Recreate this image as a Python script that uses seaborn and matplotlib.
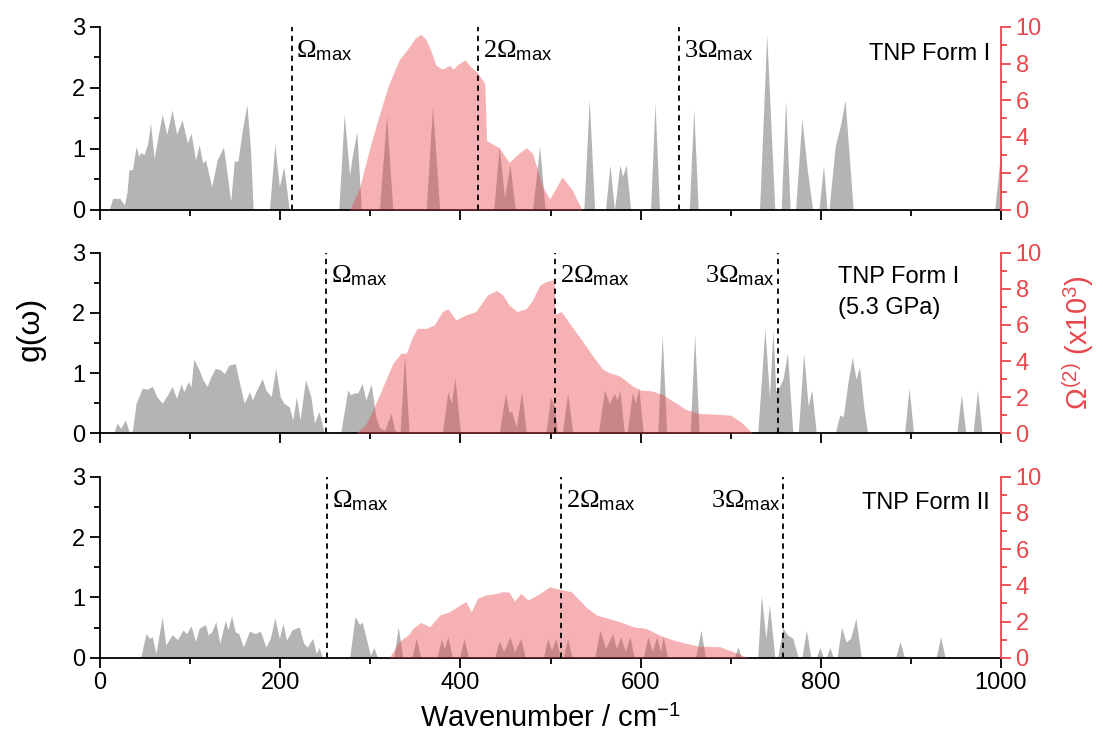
import numpy as np
import matplotlib
matplotlib.use('Agg')
import matplotlib.pyplot as plt
from matplotlib.ticker import MultipleLocator
import seaborn as sns

# ---- panel 1 : TNP Form I ----
p1_gray_x = [10, 14, 22, 27, 30, 32, 36, 40, 43, 45, 49, 53, 56, 60, 65, 69, 74, 80, 85, 91, 97, 101, 106, 110,
             114, 117, 124, 130, 137, 140, 145, 149, 153, 158, 163, 167, 170,
             188, 194, 199, 204, 210,
             265, 271, 277, 280, 285, 290,
             310, 318, 325,
             362, 369, 377,
             437, 443, 449, 455, 461,
             480, 488, 494,
             537, 543, 549,
             561, 566, 571, 577, 580, 584, 589,
             611, 616, 621,
             654, 659, 664,
             732, 740, 749,
             756, 761, 766,
             772, 779, 785, 791,
             798, 803, 807,
             809, 816, 822, 827, 836,
             993, 1000]
p1_gray_y = [0, 0.19, 0.19, 0.08, 0.3, 0.66, 0.66, 1.04, 0.88, 0.94, 0.91, 1.1, 1.43, 0.85, 1.26, 1.57, 1.24, 1.64,
             1.24, 1.48, 1.1, 1.26, 0.82, 1.07, 0.77, 0.82, 0.38, 0.82, 1.03, 0.71, 0.14, 0.8, 0.8, 1.32, 1.73,
             0.99, 0,
             0, 1.09, 0.38, 0.71, 0,
             0, 1.57, 0.58, 0.88, 1.29, 0,
             0, 1.55, 0,
             0, 1.7, 0,
             0, 1.04, 0.2, 0.74, 0,
             0, 1.04, 0,
             0, 1.81, 0,
             0, 0.74, 0, 0.74, 0.55, 0.74, 0,
             0, 1.76, 0,
             0, 1.66, 0,
             0, 2.88, 0,
             0, 1.81, 0,
             0, 1.5, 0.66, 0,
             0, 0.74, 0,
             0, 1.04, 1.4, 1.8, 0,
             0, 0.99]
p1_red_x = [277, 288, 300, 310, 320, 332, 343, 350, 356, 362, 368, 373, 380, 388, 392, 397, 405, 412, 419, 427,
            429, 443, 454, 465, 473, 480, 491, 499, 513, 524, 535]
p1_red_y = [0, 1.2, 3.5, 5.2, 6.8, 8.2, 8.9, 9.4, 9.6, 9.3, 8.6, 7.9, 7.7, 7.9, 7.7, 7.95, 8.2, 7.8, 7.5, 6.9,
            3.8, 3.4, 2.6, 3.1, 3.4, 3.1, 1.3, 0.6, 1.8, 1.1, 0]

# ---- panel 2 : TNP Form I (5.3 GPa) ----
p2_gray_x = [15, 19, 23, 28, 33, 36, 40, 47, 52, 58, 63, 69, 75, 80, 85, 90, 93, 98, 101, 104, 110, 114, 119, 123,
             128, 134, 138, 143, 150, 154, 160, 166, 169, 173, 180, 184, 190, 195, 200, 204, 210, 214, 218, 222,
             228, 234, 238, 243, 249,
             267, 275, 278, 282, 286, 291, 295, 301, 306, 310, 316, 323, 327, 333, 338, 343,
             380, 386, 390, 394, 400,
             443, 450, 454, 457, 462, 468, 473,
             495, 500, 504, 508, 513, 519, 525,
             553, 560, 565, 571, 574, 577, 582, 585, 591, 594, 598, 603,
             619, 624, 629,
             655, 660, 665,
             730, 738, 743, 747, 750, 754, 758, 763, 769,
             775, 781, 786, 790, 795,
             816, 821, 825, 830, 835, 839, 843, 848, 852,
             893, 898, 903,
             951, 956, 961,
             969, 974, 979]
p2_gray_y = [0, 0.17, 0.08, 0.22, 0, 0.05, 0.5, 0.75, 0.73, 0.78, 0.61, 0.5, 0.64, 0.78, 0.58, 0.82, 0.69, 0.86,
             0.77, 1.23, 1.05, 0.89, 0.78, 0.94, 1.08, 1.05, 0.99, 1.13, 1.16, 0.89, 0.5, 0.69, 0.55, 0.69, 0.91,
             0.72, 0.61, 1.08, 0.61, 0.5, 0.44, 0.22, 0.61, 0.22, 0.89, 0.61, 0.17, 0.36, 0,
             0, 0.72, 0.64, 0.67, 0.67, 0.83, 0.55, 0.82, 0.28, 0.1, 0.05, 0.33, 0.05, 0, 1.3, 0,
             0, 0.69, 0.5, 0.92, 0,
             0, 0.66, 0.35, 0.36, 0.1, 0.69, 0,
             0, 0.6, 0.45, 0, 0, 0.66, 0,
             0, 0.72, 0.5, 0.66, 0.55, 0.72, 0, 0, 0.69, 0.5, 0.75, 0,
             0, 1.63, 0,
             0, 1.65, 0,
             0, 1.74, 0.6, 1.73, 0.7, 0.77, 0.9, 1.33, 0,
             0, 1.33, 0.45, 0.72, 0,
             0, 0.3, 0.28, 0.83, 1.27, 0.9, 1.1, 0.4, 0,
             0, 0.75, 0,
             0, 0.64, 0,
             0, 0.72, 0]
p2_red_x = [284, 295, 303, 314, 325, 334, 340, 347, 352, 362, 371, 380, 386, 395, 406, 417, 430, 440, 447, 454,
            463, 473, 480, 488, 495, 504, 505, 512, 521, 534, 547, 558, 565, 577, 591, 600, 613, 624, 639, 650,
            665, 687, 700, 712, 724]
p2_red_y = [0, 0.5, 1.29, 2.58, 3.87, 4.43, 4.43, 5.35, 5.81, 5.81, 6.0, 6.74, 6.9, 6.27, 6.55, 6.74, 7.66, 7.9,
            7.66, 7.1, 6.74, 6.9, 7.38, 8.2, 8.4, 8.5, 6.6, 6.74, 6.1, 5.2, 4.28, 3.54, 3.36, 3.17, 2.62, 2.4,
            2.34, 2.15, 1.69, 1.32, 1.1, 1.05, 1.0, 0.6, 0]

# ---- panel 3 : TNP Form II ----
p3_gray_x = [45, 51, 55, 58, 62, 69, 73, 80, 86, 92, 96, 101, 106, 110, 117, 120, 124, 128.5, 133, 139, 142, 146,
             150, 154, 159, 166, 172, 178, 184, 189, 194, 199, 203, 207, 213, 221, 226, 230, 236, 240, 243, 247,
             277, 283, 288, 291, 296, 300, 304, 308,
             326, 331, 336,
             346, 351, 356,
             374, 379, 382, 386, 391,
             399, 404, 409,
             438, 443, 448, 455, 460, 467, 472,
             492, 497, 501, 506, 511, 514, 519, 524,
             549, 555, 561, 569, 573, 578, 583, 588, 593,
             603, 608, 613, 618, 622, 625, 630,
             661, 667, 672,
             704, 708, 712,
             730, 734, 739, 743, 749,
             752, 758, 763, 769, 775,
             779, 784, 789,
             795, 799, 803, 806, 810, 814,
             818, 823, 828, 833, 839, 845,
             883, 888, 893,
             928, 933, 938]
p3_gray_y = [0, 0.4, 0.32, 0.35, 0.07, 0.68, 0.21, 0.38, 0.3, 0.46, 0.4, 0.53, 0.27, 0.49, 0.55, 0.38, 0.43, 0.6,
             0.24, 0.62, 0.46, 0.7, 0.43, 0.4, 0.18, 0.44, 0.4, 0.44, 0.18, 0.32, 0.66, 0.32, 0.57, 0.29, 0.46,
             0.51, 0.24, 0.18, 0.32, 0.07, 0.17, 0,
             0, 0.68, 0.55, 0.59, 0.29, 0.04, 0.17, 0,
             0, 0.51, 0,
             0, 0.32, 0,
             0, 0.32, 0.15, 0.35, 0,
             0, 0.32, 0,
             0, 0.28, 0.1, 0.35, 0.1, 0.32, 0,
             0, 0.32, 0.12, 0.32, 0, 0, 0.32, 0,
             0, 0.46, 0.15, 0.4, 0.15, 0.35, 0.1, 0.35, 0,
             0, 0.35, 0.1, 0.35, 0.1, 0.35, 0,
             0, 0.46, 0,
             0, 0.18, 0,
             0, 1.04, 0.32, 0.88, 0,
             0, 0.49, 0.38, 0.32, 0,
             0, 0.46, 0,
             0, 0.17, 0, 0, 0.17, 0,
             0, 0.51, 0.26, 0.32, 0.65, 0,
             0, 0.27, 0,
             0, 0.35, 0]
p3_red_x = [321, 332, 343, 347, 356, 366, 377, 388, 399, 406, 412, 419, 428, 440, 447, 454, 460, 467, 475, 482,
            491, 499, 506, 514, 523, 532, 541, 551, 562, 577, 592, 606, 621, 636, 651, 665, 688, 703, 717, 720]
p3_red_y = [0, 0.9, 1.3, 1.62, 1.95, 1.71, 2.36, 2.54, 2.9, 3.1, 2.54, 3.28, 3.46, 3.55, 3.65, 3.62, 3.13, 3.55,
            3.19, 3.37, 3.65, 3.92, 3.83, 3.74, 3.65, 3.19, 2.73, 2.36, 2.21, 1.99, 1.71, 1.62, 1.25, 0.98, 0.79,
            0.64, 0.61, 0.33, 0.05, 0]

# dashed multiples of the max phonon frequency
omega_lines = [[213, 420, 643], [251, 505, 752], [252, 512, 758]]
omega_labels = [r'$\Omega_{\mathsf{max}}$', r'$2\Omega_{\mathsf{max}}$', r'$3\Omega_{\mathsf{max}}$']
panel_titles = ['TNP Form I', 'TNP Form I\n(5.3 GPa)', 'TNP Form II']

sns.set_theme(style='ticks')
plt.rcParams['font.family'] = ['Liberation Sans', 'DejaVu Sans']
plt.rcParams['mathtext.fontset'] = 'custom'
plt.rcParams['mathtext.rm'] = 'Liberation Serif'
plt.rcParams['mathtext.it'] = 'Liberation Serif:italic'
plt.rcParams['mathtext.sf'] = 'Liberation Sans'
plt.rcParams['text.color'] = 'black'
plt.rcParams['axes.labelcolor'] = 'black'
plt.rcParams['xtick.color'] = 'black'
plt.rcParams['ytick.color'] = 'black'

GRAY = '#b4b4b4'
RED = '#e8474c'

fig = plt.figure(figsize=(11.03, 7.47), dpi=100)
boxes = [(0.0907, 0.7189, 0.8168, 0.2450),
         (0.0907, 0.4200, 0.8168, 0.2417),
         (0.0907, 0.1195, 0.8168, 0.2423)]
data = [(p1_gray_x, p1_gray_y, p1_red_x, p1_red_y),
        (p2_gray_x, p2_gray_y, p2_red_x, p2_red_y),
        (p3_gray_x, p3_gray_y, p3_red_x, p3_red_y)]

for i, (box, (gx, gy, rx, ry)) in enumerate(zip(boxes, data)):
    ax = fig.add_axes(box)
    ax.fill_between(gx, 0, gy, color=GRAY, linewidth=0)
    ax.set_xlim(0, 1000)
    ax.set_ylim(0, 3)
    ax.xaxis.set_major_locator(MultipleLocator(200))
    ax.xaxis.set_minor_locator(MultipleLocator(100))
    ax.yaxis.set_major_locator(MultipleLocator(1))
    ax.yaxis.set_minor_locator(MultipleLocator(0.5))
    ax.tick_params(which='major', direction='out', length=7, width=1.3, labelsize=17, colors='black')
    ax.tick_params(which='minor', direction='out', length=4, width=1.3, colors='black')
    for s in ['left', 'bottom']:
        ax.spines[s].set_linewidth(1.3)
        ax.spines[s].set_color('black')
    sns.despine(ax=ax, top=True, right=True)
    if i < 2:
        ax.set_xticklabels([])

    ax2 = ax.twinx()
    ax2.fill_between(rx, 0, ry, color=RED, alpha=0.42, linewidth=0)
    ax2.set_ylim(0, 10)
    ax2.yaxis.set_major_locator(MultipleLocator(2))
    ax2.yaxis.set_minor_locator(MultipleLocator(1))
    ax2.tick_params(which='major', direction='out', length=7, width=1.3, labelsize=17,
                    colors=RED)
    ax2.tick_params(which='minor', direction='out', length=4, width=1.3, colors=RED)
    ax2.spines['top'].set_visible(False)
    ax2.spines['left'].set_visible(False)
    ax2.spines['bottom'].set_visible(False)
    ax2.spines['right'].set_color(RED)
    ax2.spines['right'].set_linewidth(1.3)

    for k, (xl, lab) in enumerate(zip(omega_lines[i], omega_labels)):
        ax2.axvline(xl, color='black', linestyle=(0, (3, 2.5)), linewidth=1.3, zorder=5)
        if i > 0 and k == 2:
            ax2.text(xl - 3, 8.7, lab, ha='right', va='center', fontsize=19)
        else:
            ax2.text(xl + 5, 8.7, lab, ha='left', va='center', fontsize=19)

    if i == 1:
        ax2.text(819, 8.65, 'TNP Form I', ha='left', va='center', fontsize=17)
        ax2.text(819, 6.95, '(5.3 GPa)', ha='left', va='center', fontsize=17)
        ax2.set_ylabel('Ω$^{\\mathsf{(2)}}$ (x10$^{\\mathsf{3}}$)', color=RED, fontsize=21, labelpad=14)
    else:
        ax2.text(988, 8.55, panel_titles[i], ha='right', va='center', fontsize=17)

fig.text(0.028, 0.56, 'g(ω)', rotation=90, ha='center', va='center', fontsize=23)
fig.text(0.499, 0.038, 'Wavenumber / cm$^{\\mathsf{-1}}$', ha='center', va='center', fontsize=21)

fig.savefig('out.png', dpi=100)
